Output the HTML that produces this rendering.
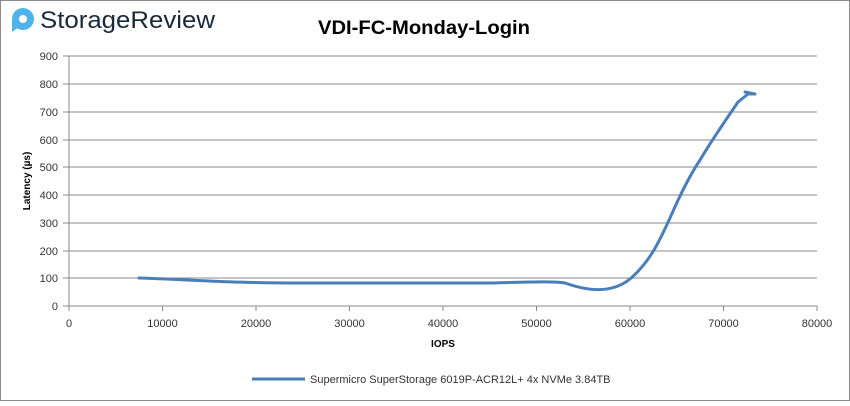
<!DOCTYPE html>
<html><head><style>
body{margin:0;background:#fff;}
svg text{font-family:"Liberation Sans",sans-serif;}
</style></head><body>
<svg width="850" height="401" viewBox="0 0 850 401" xmlns="http://www.w3.org/2000/svg">
<rect x="0.5" y="0.5" width="849" height="400" fill="#fff" stroke="#8a8a8a"/>
<!-- logo -->
<circle cx="23" cy="19" r="11" fill="#4db3e8"/>
<path d="M12 19 L12 32 L19 27 Z" fill="#4db3e8"/>
<circle cx="23" cy="19" r="4" fill="#fff"/>
<text x="40" y="28" font-size="24" fill="#1a2a3a" textLength="175" lengthAdjust="spacingAndGlyphs">StorageReview</text>
<text x="318" y="34" font-size="19" font-weight="bold" fill="#000" textLength="212" lengthAdjust="spacingAndGlyphs">VDI-FC-Monday-Login</text>
<g stroke="#888" stroke-width="1">
<line x1="69" y1="56" x2="817" y2="56"/>
<line x1="69" y1="84" x2="817" y2="84"/>
<line x1="69" y1="112" x2="817" y2="112"/>
<line x1="69" y1="140" x2="817" y2="140"/>
<line x1="69" y1="167" x2="817" y2="167"/>
<line x1="69" y1="195" x2="817" y2="195"/>
<line x1="69" y1="223" x2="817" y2="223"/>
<line x1="69" y1="251" x2="817" y2="251"/>
<line x1="69" y1="278" x2="817" y2="278"/>
<line x1="69" y1="306" x2="817" y2="306"/>
<line x1="69" y1="56" x2="69" y2="306"/>
<line x1="63" y1="56" x2="69" y2="56"/><line x1="63" y1="84" x2="69" y2="84"/><line x1="63" y1="112" x2="69" y2="112"/><line x1="63" y1="140" x2="69" y2="140"/><line x1="63" y1="167" x2="69" y2="167"/><line x1="63" y1="195" x2="69" y2="195"/><line x1="63" y1="223" x2="69" y2="223"/><line x1="63" y1="251" x2="69" y2="251"/><line x1="63" y1="278" x2="69" y2="278"/><line x1="63" y1="306" x2="69" y2="306"/>
<line x1="69" y1="306" x2="69" y2="311"/><line x1="162.5" y1="306" x2="162.5" y2="311"/><line x1="256" y1="306" x2="256" y2="311"/><line x1="349.5" y1="306" x2="349.5" y2="311"/><line x1="443" y1="306" x2="443" y2="311"/><line x1="536.5" y1="306" x2="536.5" y2="311"/><line x1="630" y1="306" x2="630" y2="311"/><line x1="723.5" y1="306" x2="723.5" y2="311"/><line x1="817" y1="306" x2="817" y2="311"/>
</g>
<g font-size="11" fill="#333" text-anchor="end">
<text x="58" y="60">900</text><text x="58" y="88">800</text><text x="58" y="116">700</text><text x="58" y="144">600</text><text x="58" y="171">500</text><text x="58" y="199">400</text><text x="58" y="227">300</text><text x="58" y="255">200</text><text x="58" y="282">100</text><text x="58" y="310">0</text>
</g>
<g font-size="11" fill="#333" text-anchor="middle">
<text x="69" y="327">0</text><text x="162.5" y="327">10000</text><text x="256" y="327">20000</text><text x="349.5" y="327">30000</text><text x="443" y="327">40000</text><text x="536.5" y="327">50000</text><text x="630" y="327">60000</text><text x="723.5" y="327">70000</text><text x="817" y="327">80000</text>
</g>
<text x="443" y="347" font-size="10" font-weight="bold" text-anchor="middle">IOPS</text>
<text transform="translate(30,181) rotate(-90)" font-size="10" font-weight="bold" text-anchor="middle">Latency (µs)</text>
<path d="M139 278 C200 280 230 283 300 283 L490 283 C530 282 555 281 565 283 C585 290 610 295 630 279 C650 262 660 240 670 218 C680 195 690 175 700 160 C715 135 728 117 738 102 L748 94 L755 94 L745 92" fill="none" stroke="#4a7ebb" stroke-width="3" stroke-linejoin="round" stroke-linecap="round"/>
<line x1="252" y1="379" x2="305" y2="379" stroke="#4a7ebb" stroke-width="3"/>
<text x="310" y="383" font-size="11" fill="#333">Supermicro SuperStorage 6019P-ACR12L+ 4x NVMe 3.84TB</text>
</svg>
</body></html>
